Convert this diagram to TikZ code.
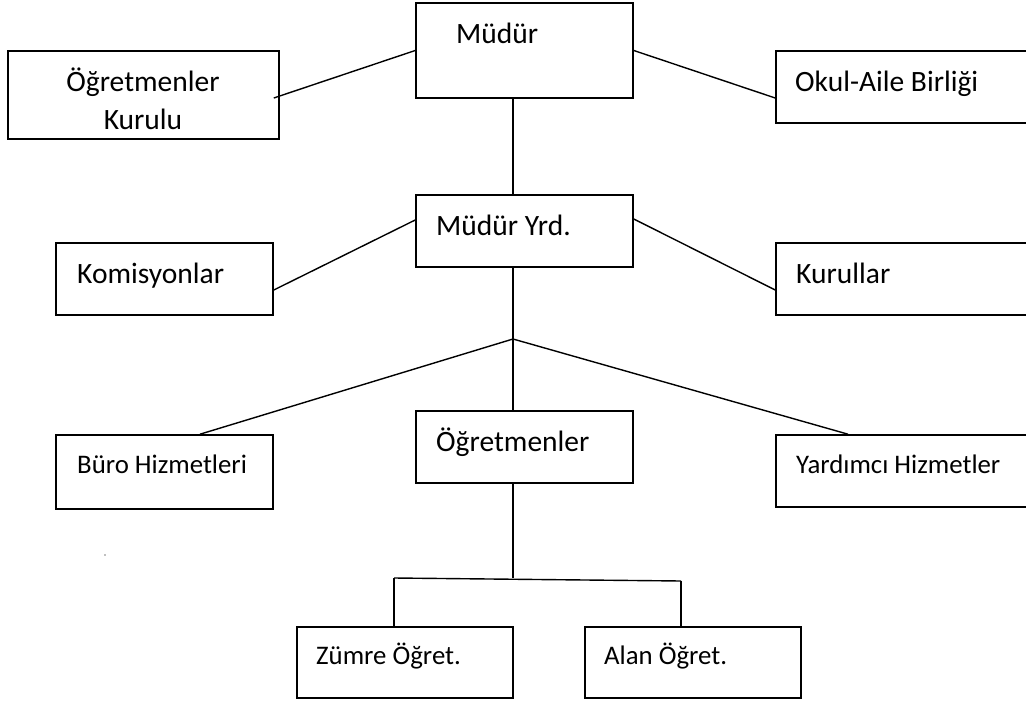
\documentclass[tikz,border=0pt]{standalone}
\usepackage{fontspec}
\setmainfont{Carlito}
\usetikzlibrary{calc}
\begin{document}
\begin{tikzpicture}[x=1pt,y=-1pt,
  kutu/.style={draw, line width=1.6pt, rectangle, inner sep=0pt},
  yazi/.style={anchor=base west, inner sep=0pt, font=\fontsize{29.5}{35}\selectfont},
  kucukyazi/.style={yazi, font=\fontsize{26.8}{32}\selectfont},
  hat/.style={line width=1.4pt}]
        \useasboundingbox (0,0) rectangle (1026,704);
        \clip (0,0) rectangle (1026,704);
        \node[kutu, minimum width=271pt, minimum height=88pt] (kurulu) at (143.5,95) {};
        \node[kutu, minimum width=217pt, minimum height=95pt] (mudur) at (524.5,50.5) {};
        \node[kutu, minimum width=264pt, minimum height=72pt] (okul) at (908,87) {};
        \node[kutu, minimum width=217pt, minimum height=72pt] (yrd) at (524.5,231) {};
        \node[kutu, minimum width=217pt, minimum height=72pt] (komisyon) at (164.5,279) {};
        \node[kutu, minimum width=264pt, minimum height=72pt] (kurullar) at (908,279) {};
        \node[kutu, minimum width=217pt, minimum height=74pt] (buro) at (164.5,472) {};
        \node[kutu, minimum width=217pt, minimum height=72pt] (ogretmen) at (524.5,447) {};
        \node[kutu, minimum width=264pt, minimum height=72pt] (yardimci) at (908,471) {};
        \node[kutu, minimum width=216pt, minimum height=71pt] (zumre) at (405,662.5) {};
        \node[kutu, minimum width=216pt, minimum height=71pt] (alan) at (693,662.5) {};
        \node[yazi, anchor=base] (kurulu-ust) at (143,91) {Öğretmenler};
        \node[yazi, anchor=base] (kurulu-alt) at (143,129) {Kurulu};
        \node[yazi] (mudur-yazi) at (456,43) {Müdür};
        \node[yazi] (okul-yazi) at (795,91) {Okul-Aile Birliği};
        \node[yazi] (yrd-yazi) at (436,235) {Müdür Yrd.};
        \node[yazi] (komisyon-yazi) at (77,283) {Komisyonlar};
        \node[yazi] (kurullar-yazi) at (796,283) {Kurullar};
        \node[yazi] (ogretmen-yazi) at (436,451) {Öğretmenler};
        \node[kucukyazi] (buro-yazi) at (77,473) {Büro Hizmetleri};
        \node[kucukyazi] (yardimci-yazi) at (796,473) {Yardımcı Hizmetler};
        \node[kucukyazi] (zumre-yazi) at (316,664) {Zümre Öğret.};
        \node[kucukyazi] (alan-yazi) at (604,664) {Alan Öğret.};
        \draw[hat] ([xshift=-6pt,yshift=-3pt]kurulu.east) -- (mudur.west);
        \draw[hat] (mudur.east) -- ([yshift=-11pt]okul.west);
        \draw[hat] ([xshift=-11.5pt]mudur.south) -- ([xshift=-11.5pt]yrd.north);
        \draw[hat] ([yshift=-11pt]komisyon.east) -- ([yshift=11pt]yrd.west);
        \draw[hat] ([yshift=12pt]yrd.east) -- ([yshift=-11pt]kurullar.west);
        \coordinate (dal) at (513,339);
        \draw[hat] ([xshift=-11.5pt]yrd.south) -- (dal) -- ([xshift=-11.5pt]ogretmen.north);
        \draw[hat] (dal) -- ([xshift=35.5pt]buro.north);
        \draw[hat] (dal) -- ([xshift=-60pt]yardimci.north);
        \coordinate (sol) at (394,578);
        \coordinate (sag) at (681,581);
        \draw[hat] ([xshift=-11.5pt]ogretmen.south) -- ([xshift=-11.5pt]ogretmen.south |- sol);
        \draw[hat] (sol) -- (sag);
        \draw[hat] (sol) -- (sol |- zumre.north);
        \draw[hat] (sag) -- (sag |- alan.north);
        \fill[gray] (105,555) circle (0.8);
\end{tikzpicture}
\end{document}
